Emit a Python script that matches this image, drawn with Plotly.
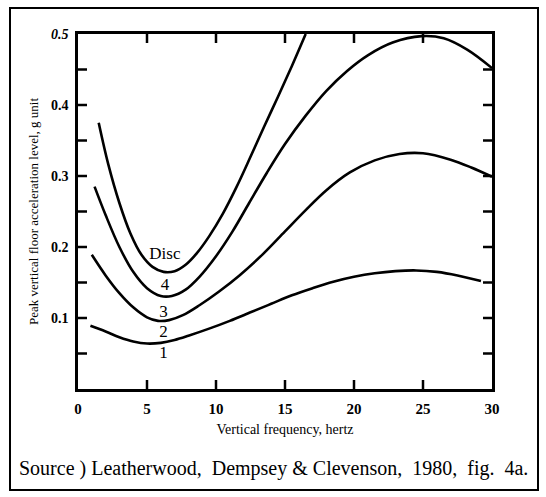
import plotly.graph_objects as go

# ---- data ----
curve1_x = [0.9, 2.0, 3.0, 4.0, 5.0, 6.0, 7.0, 8.0, 9.5, 11.0, 12.5, 14.0, 15.5, 17.0, 18.5, 20.0, 21.5, 23.0, 24.5, 26.0, 27.5, 29.2]
curve1_y = [0.089, 0.081, 0.073, 0.067, 0.064, 0.065, 0.069, 0.075, 0.085, 0.096, 0.108, 0.120, 0.132, 0.142, 0.151, 0.158, 0.163, 0.166, 0.167, 0.165, 0.160, 0.152]

curve2_x = [1.0, 2.0, 3.0, 4.0, 5.0, 5.8, 6.6, 7.6, 8.8, 10.2, 11.7, 13.4, 15.0, 16.5, 18.0, 19.7, 21.5, 23.3, 25.0, 27.0, 28.5, 30.0]
curve2_y = [0.189, 0.160, 0.135, 0.115, 0.101, 0.096, 0.097, 0.104, 0.118, 0.137, 0.160, 0.190, 0.222, 0.252, 0.280, 0.305, 0.322, 0.331, 0.332, 0.323, 0.312, 0.299]

curve3_x = [1.2, 2.0, 3.0, 4.0, 5.0, 6.0, 6.8, 7.8, 8.8, 10.0, 11.2, 12.4, 13.7, 15.0, 16.5, 18.0, 19.5, 21.0, 22.8, 24.9, 26.5, 28.2, 30.0]
curve3_y = [0.285, 0.245, 0.200, 0.165, 0.142, 0.131, 0.131, 0.140, 0.158, 0.187, 0.222, 0.262, 0.305, 0.345, 0.385, 0.420, 0.448, 0.470, 0.488, 0.497, 0.494, 0.478, 0.452]

disc_x = [1.5, 2.2, 3.0, 3.8, 4.6, 5.4, 6.2, 7.0, 7.8, 8.6, 9.5, 10.5, 11.5, 12.5, 13.5, 14.5, 15.5, 16.5]
disc_y = [0.375, 0.316, 0.262, 0.219, 0.189, 0.172, 0.165, 0.166, 0.175, 0.191, 0.215, 0.247, 0.285, 0.327, 0.370, 0.412, 0.455, 0.500]

zone_labels = ["Disc", "4", "3", "2", "1"]
zone_x = [6.3, 6.3, 6.2, 6.2, 6.2]
zone_y = [0.189, 0.146, 0.108, 0.079, 0.049]

x_tickvals = [0, 5, 10, 15, 20, 25, 30]
x_ticktext = ["0", "5", "10", "15", "20", "25", "30"]
y_tickvals = [0.05, 0.1, 0.15, 0.2, 0.25, 0.3, 0.35, 0.4, 0.45, 0.5]
y_ticktext = ["", "0.1", "", "0.2", "", "0.3", "", "0.4", "", "<i>0.5</i>"]

x_title = "Vertical frequency, hertz"
y_title = "Peak vertical floor acceleration level, g unit"
caption = "Source ) Leatherwood,  Dempsey & Clevenson,  1980,  fig.  4a."

X_RANGE = [0, 30]
Y_RANGE = [0, 0.5]

# ---- figure ----
W, H = 546, 497
L, R, T, B = 78, 54, 34, 108
pw, ph = W - L - R, H - T - B

def px(xp):
    return (xp - L) / pw

def py(yp):
    return (H - B - yp) / ph

SERIF = "Liberation Serif, Times New Roman, serif"
fig = go.Figure()
for xs, ys in [(curve1_x, curve1_y), (curve2_x, curve2_y), (curve3_x, curve3_y), (disc_x, disc_y)]:
    fig.add_trace(go.Scatter(x=xs, y=ys, mode="lines",
                             line=dict(color="black", width=2.6, shape="spline", smoothing=1.0),
                             hoverinfo="skip", showlegend=False, cliponaxis=True))

fig.add_trace(go.Scatter(x=zone_x, y=zone_y, mode="text", text=zone_labels,
                         textfont=dict(family=SERIF, size=17, color="black"),
                         showlegend=False, hoverinfo="skip"))

fig.update_layout(
    template="none",
    width=W, height=H,
    margin=dict(l=L, r=R, t=T, b=B, pad=0),
    paper_bgcolor="white", plot_bgcolor="white",
    font=dict(family=SERIF, color="black"),
    xaxis=dict(range=X_RANGE, tickmode="array", tickvals=x_tickvals, ticktext=x_ticktext,
               showgrid=False, zeroline=False, showline=True, linecolor="black", linewidth=2.5,
               mirror=True, ticks="", ticklabelstandoff=4,
               tickfont=dict(family=SERIF, size=15, color="black", weight="bold"),
               title=dict(text=x_title, font=dict(family=SERIF, size=14), standoff=9)),
    yaxis=dict(range=Y_RANGE, tickmode="array", tickvals=y_tickvals, ticktext=y_ticktext,
               showgrid=False, zeroline=False, showline=True, linecolor="black", linewidth=2.5,
               mirror=True, ticks="", ticklabelstandoff=4,
               tickfont=dict(family=SERIF, size=14, color="black", weight="bold"),
               title=dict(text=y_title, font=dict(family=SERIF, size=13), standoff=10)),
)

# inside tick marks on all four sides, placed at the tick values
TL = 9
tick_line = dict(color="black", width=2.5)
for v in x_tickvals[1:-1]:
    fig.add_shape(type="line", xref="x", yref="y", x0=v, x1=v,
                  ysizemode="pixel", yanchor=Y_RANGE[0], y0=0, y1=TL, line=tick_line)
    fig.add_shape(type="line", xref="x", yref="y", x0=v, x1=v,
                  ysizemode="pixel", yanchor=Y_RANGE[1], y0=0, y1=-TL, line=tick_line)
for v in y_tickvals[:-1]:
    fig.add_shape(type="line", xref="x", yref="y", y0=v, y1=v,
                  xsizemode="pixel", xanchor=X_RANGE[0], x0=0, x1=TL, line=tick_line)
    fig.add_shape(type="line", xref="x", yref="y", y0=v, y1=v,
                  xsizemode="pixel", xanchor=X_RANGE[1], x0=0, x1=-TL, line=tick_line)

# outer hand-drawn frame
fig.add_shape(type="rect", xref="paper", yref="paper",
              x0=px(10), x1=px(538), y0=py(490), y1=py(8),
              line=dict(color="black", width=2), layer="below")

fig.add_annotation(text=caption, xref="paper", yref="paper",
                   x=px(17), y=py(468), xanchor="left", yanchor="middle",
                   showarrow=False, font=dict(family=SERIF, size=20, color="black"))

fig.write_html("out.html")
